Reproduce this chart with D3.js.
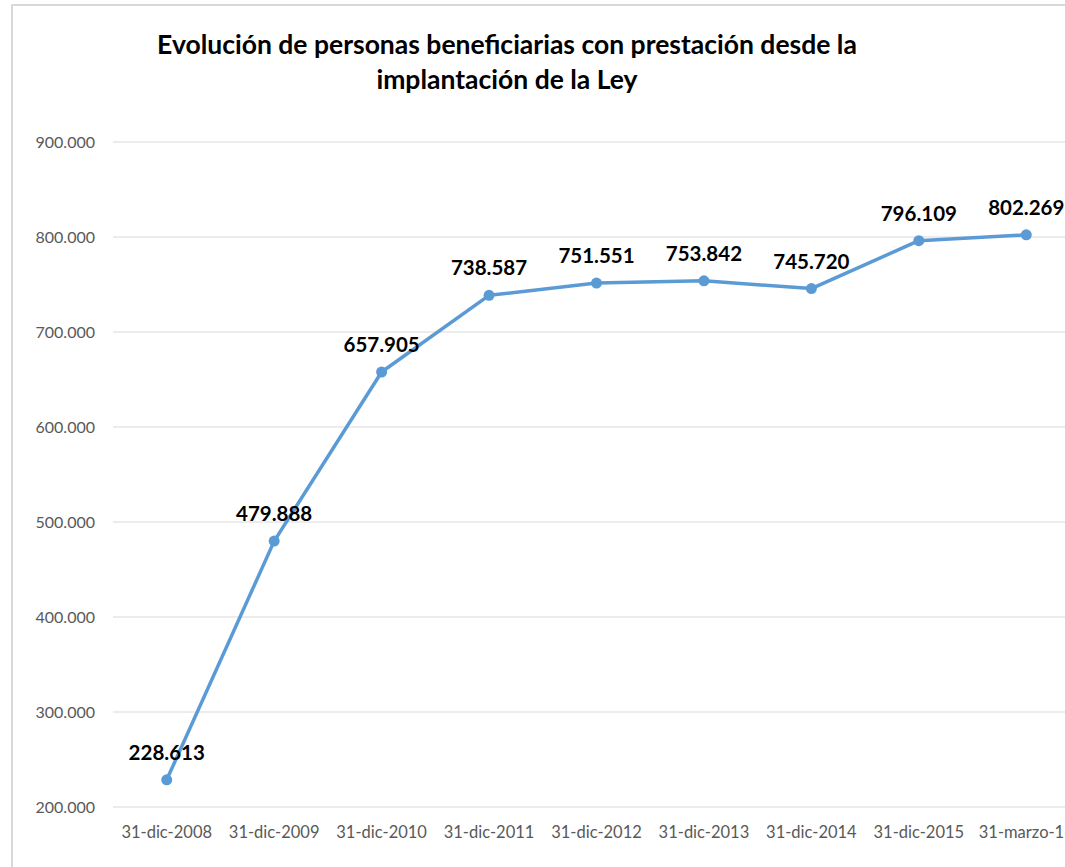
<!DOCTYPE html>
<html>
<head>
<meta charset="utf-8">
<script src="https://cdnjs.cloudflare.com/ajax/libs/d3/7.8.5/d3.min.js"></script>
<style>
  body { margin: 0; background: #fff; }
  svg { display: block; font-family: Lato, "Open Sans", sans-serif; }
</style>
</head>
<body>
<svg id="chart" width="1065" height="867"></svg>
<script>
const categories = ["31-dic-2008", "31-dic-2009", "31-dic-2010", "31-dic-2011", "31-dic-2012",
  "31-dic-2013", "31-dic-2014", "31-dic-2015", "31-marzo-16"];
const beneficiarios = [228613, 479888, 657905, 738587, 751551, 753842, 745720, 796109, 802269];
const yTicks = [200000, 300000, 400000, 500000, 600000, 700000, 800000, 900000];
const titleLines = ["Evolución de personas beneficiarias con prestación desde la", "implantación de la Ley"];

const svg = d3.select("#chart");
const es = d3.formatLocale({ decimal: ",", thousands: ".", grouping: [3], currency: ["", " €"] });
const fmt = es.format(",.0f");

// chart frame
svg.append("rect")
  .attr("x", 12).attr("y", 5)
  .attr("width", 1100).attr("height", 900)
  .attr("fill", "none").attr("stroke", "#d9d9d9").attr("stroke-width", 2);

const x = d3.scaleBand().domain(categories).range([113, 1080]);
const y = d3.scaleLinear().domain([200000, 900000]).range([807, 142]);

// gridlines
svg.append("g")
  .selectAll("line")
  .data(yTicks)
  .join("line")
  .attr("x1", 113).attr("x2", 1080)
  .attr("y1", d => y(d)).attr("y2", d => y(d))
  .attr("stroke", "#d9d9d9").attr("stroke-width", 1);

// y labels
svg.append("g")
  .selectAll("text")
  .data(yTicks)
  .join("text")
  .attr("x", 95).attr("y", d => y(d) + 5.5)
  .attr("text-anchor", "end")
  .attr("font-size", 16)
  .attr("fill", "#595959")
  .text(d => fmt(d));

// x labels
svg.append("g")
  .selectAll("text")
  .data(categories)
  .join("text")
  .attr("x", d => x(d) + x.bandwidth() / 2)
  .attr("y", 838)
  .attr("text-anchor", "middle")
  .attr("font-size", 16.5)
  .attr("fill", "#595959")
  .text(d => d);

const cx = (d, i) => x(categories[i]) + x.bandwidth() / 2;

svg.append("path")
  .datum(beneficiarios)
  .attr("fill", "none")
  .attr("stroke", "#5b9bd5")
  .attr("stroke-width", 3.5)
  .attr("stroke-linejoin", "round")
  .attr("d", d3.line().x(cx).y(d => y(d)));

svg.append("g")
  .selectAll("circle")
  .data(beneficiarios)
  .join("circle")
  .attr("cx", cx).attr("cy", d => y(d))
  .attr("r", 5.5)
  .attr("fill", "#5b9bd5");

// data labels
svg.append("g")
  .selectAll("text")
  .data(beneficiarios)
  .join("text")
  .attr("x", cx)
  .attr("y", d => y(d) - 20)
  .attr("text-anchor", "middle")
  .attr("font-size", 20.5)
  .attr("font-weight", "bold")
  .attr("fill", "#000")
  .text(d => fmt(d));

// title
svg.append("g")
  .selectAll("text")
  .data(titleLines)
  .join("text")
  .attr("x", 507)
  .attr("y", (d, i) => 54 + i * 35)
  .attr("text-anchor", "middle")
  .attr("font-size", 26.5)
  .attr("font-weight", "bold")
  .attr("fill", "#000")
  .text(d => d);
</script>
</body>
</html>
